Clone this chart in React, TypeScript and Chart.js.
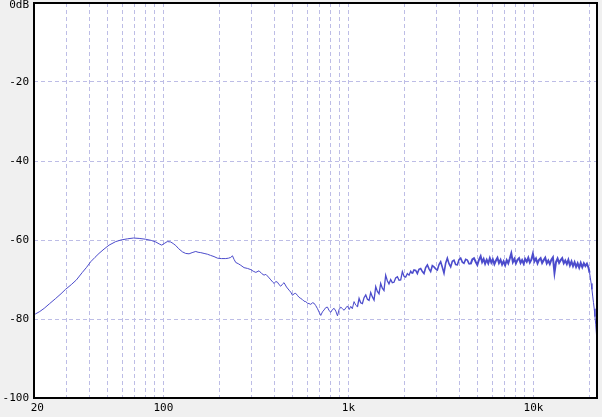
import React, { useEffect, useRef } from 'react';
import { Chart, registerables } from 'chart.js';

Chart.register(...registerables);

// Frequency (Hz) of each measured point
const freqHz = [
  20, 20.4, 21.5, 22.7, 24.3, 26.2, 28.0, 29.6, 31.8, 33.9,
  36.5, 38.5, 40.5, 42.7, 44.9, 47.8, 50.9, 55.3, 59.0, 64.0,
  69.0, 74.0, 80.0, 86.0, 91.0, 95.0, 98.0, 101.0, 105.0, 109.6,
  113.0, 116.7, 121.0, 126.8, 132.0, 137.7, 143.0, 149.7, 154.0, 159.3,
  166.0, 173.1, 180.0, 187.9, 196.1, 206.0, 217.4, 225.0, 231.3, 236.3,
  241.0, 246.3, 254.0, 262.0, 273.0, 285.0, 297.0, 306.0, 316.0, 329.0,
  340.0, 350.0, 358.0, 365.0, 373.0, 381.0, 389.0, 397.0, 405.0, 414.0,
  422.0, 431.0, 440.0, 449.0, 463.0, 478.0, 488.0, 499.0, 509.0, 519.0,
  530.0, 541.0, 553.0, 565.0, 576.0, 588.0, 601.0, 613.0, 626.0, 639.0,
  652.0, 666.0, 681.0, 695.0, 709.0, 724.0, 739.0, 755.0, 771.0, 787.0,
  803.0, 820.0, 837.0, 855.0, 873.0, 891.0, 910.0, 929.0, 948.0, 968.0,
  989.0, 1010, 1030, 1050, 1073, 1096, 1119, 1142, 1165, 1190,
  1215, 1241, 1267, 1293, 1320, 1348, 1376, 1405, 1434, 1464,
  1494, 1525, 1557, 1590, 1623, 1657, 1692, 1727, 1763, 1801,
  1840, 1878, 1917, 1957, 1998, 2040, 2083, 2127, 2171, 2216,
  2262, 2310, 2358, 2407, 2458, 2510, 2562, 2616, 2672, 2727,
  2783, 2841, 2901, 2962, 3025, 3088, 3152, 3218, 3285, 3354,
  3425, 3496, 3570, 3645, 3721, 3799, 3879, 3960, 4043, 4128,
  4213, 4302, 4393, 4485, 4578, 4674, 4771, 4872, 4974, 5078,
  5184, 5280, 5380, 5480, 5590, 5700, 5810, 5920, 6030, 6150,
  6270, 6390, 6510, 6640, 6770, 6900, 7030, 7170, 7310, 7450,
  7590, 7740, 7890, 8040, 8200, 8360, 8520, 8680, 8850, 9020,
  9200, 9380, 9560, 9740, 9930, 10120, 10320, 10520, 10720, 10930,
  11140, 11360, 11580, 11800, 12030, 12260, 12500, 12740, 12990, 13240,
  13500, 13760, 14030, 14300, 14580, 14860, 15150, 15440, 15740, 16050,
  16360, 16680, 17000, 17330, 17670, 18010, 18360, 18720, 19080, 19450,
  19830, 20100, 20300, 20500, 20700, 20900, 21100, 21300, 21500, 21700,
  21900, 22050,
];

// Level (dB) at each frequency above
const levelDb = [
  -79.0, -78.7, -78.1, -77.3, -76.1, -74.8, -73.6, -72.5, -71.3, -70.1,
  -68.2, -66.9, -65.5, -64.4, -63.4, -62.3, -61.3, -60.4, -60.0, -59.7,
  -59.5, -59.6, -59.8, -60.1, -60.5, -61.0, -61.3, -60.9, -60.4, -60.5,
  -60.9, -61.4, -62.2, -63.0, -63.4, -63.5, -63.2, -62.9, -63.1, -63.2,
  -63.4, -63.6, -63.9, -64.2, -64.6, -64.7, -64.7, -64.6, -64.4, -64.0,
  -64.9, -65.7, -66.0, -66.4, -67.0, -67.2, -67.5, -67.9, -68.2, -67.8,
  -68.5, -68.9, -68.7, -69.1, -69.6, -70.1, -70.6, -71.0, -70.5, -70.7,
  -71.3, -71.7, -71.2, -70.8, -71.9, -72.7, -73.2, -74.0, -73.6, -73.5,
  -74.0, -74.5, -74.8, -75.1, -75.5, -75.6, -76.0, -76.1, -76.3, -75.9,
  -76.0, -76.6, -77.4, -78.3, -79.1, -78.2, -77.7, -77.1, -77.0, -77.9,
  -78.3, -77.6, -77.3, -78.0, -79.2, -77.6, -77.0, -77.4, -77.8, -77.2,
  -76.7, -77.6, -76.8, -77.4, -75.6, -76.5, -76.9, -74.8, -75.9, -76.1,
  -74.6, -73.9, -75.0, -75.3, -73.3, -74.4, -75.2, -71.8, -73.0, -73.6,
  -71.0, -72.2, -72.8, -68.9, -70.3, -71.1, -70.0, -70.8, -70.7, -69.6,
  -69.3, -70.2, -70.1, -68.0, -69.2, -69.4, -68.5, -68.9, -67.9, -68.5,
  -67.6, -67.7, -68.5, -67.4, -67.2, -68.0, -68.5, -67.0, -66.3, -67.3,
  -68.0, -66.5, -66.8, -67.3, -67.6, -66.2, -65.5, -66.9, -68.4, -65.9,
  -64.6, -66.0, -66.8, -65.4, -65.1, -66.2, -66.3, -65.0, -64.6, -65.6,
  -65.9, -64.9, -65.1, -66.0, -66.1, -64.9, -64.6, -65.5, -66.3, -65.0,
  -64.1, -65.6, -64.8, -66.0, -65.0, -65.9, -64.6, -65.7, -64.9, -66.1,
  -65.2, -64.5, -65.8, -65.0, -66.2, -65.4, -66.4, -65.1, -65.9, -64.7,
  -63.4, -65.6, -64.8, -65.9, -65.0, -64.6, -65.8, -65.1, -66.0, -64.8,
  -65.5, -64.5, -65.7, -65.0, -63.5, -65.4, -64.7, -65.9, -65.0, -64.6,
  -65.8, -65.1, -64.5, -65.9, -65.2, -66.1, -65.0, -64.4, -68.3, -65.6,
  -64.7, -65.8, -65.1, -64.6, -65.9, -65.2, -66.1, -65.0, -66.4, -65.4,
  -66.6, -65.6, -66.8, -65.9, -67.0, -65.8, -66.9, -65.9, -66.6, -66.0,
  -67.0, -68.3, -69.6, -71.0, -72.5, -74.2, -75.8, -77.4, -79.4, -81.3,
  -83.8, -86.5,
];

// Vertical grid lines (Hz) and the ones that carry a label
const xGridHz = [
  20, 30, 40, 50, 60, 70, 80, 90,
  100, 200, 300, 400, 500, 600, 700, 800, 900,
  1000, 2000, 3000, 4000, 5000, 6000, 7000, 8000, 9000,
  10000, 20000,
];
const xLabelHz = [20, 100, 1000, 10000];
const xLabelText = [' 20', '100', '1k', '10k'];

// Horizontal grid lines (dB) and their labels
const yTickDb = [-100, -80, -60, -40, -20, 0];
const yLabelText = ['-100', '-80', '-60', '-40', '-20', '0dB'];

const X_MIN = 20;
const X_MAX = 22050;
const Y_MIN = -100;
const Y_MAX = 0;

const FONT = { family: "'DejaVu Sans Mono', monospace", size: 11 };
const TOP_FONT = { family: "'DejaVu Sans Mono', monospace", size: 11, lineHeight: 0.45 };
const GRID_COLOR = '#bdbde6';
const LINE_COLOR = '#4c4ccc';

export default function App() {
  const canvasRef = useRef<HTMLCanvasElement | null>(null);

  useEffect(() => {
    document.body.style.margin = '0';
    document.body.style.background = '#f0f0f0';
    const canvas = canvasRef.current;
    if (!canvas) return;

    const points = freqHz.map((f, i) => ({ x: f, y: levelDb[i] }));

    const framePlugin = {
      id: 'frame',
      beforeDraw(chart: any) {
        const { ctx, chartArea: a } = chart;
        ctx.save();
        ctx.fillStyle = '#f0f0f0';
        ctx.fillRect(0, 0, chart.width, chart.height);
        ctx.fillStyle = '#ffffff';
        ctx.fillRect(a.left, a.top, a.right - a.left, a.bottom - a.top);
        ctx.restore();
      },
      afterDraw(chart: any) {
        const { ctx, chartArea: a } = chart;
        ctx.save();
        ctx.strokeStyle = '#000000';
        ctx.lineWidth = 2;
        ctx.strokeRect(a.left, a.top, a.right - a.left, a.bottom - a.top);
        ctx.restore();
      },
    };

    const chart = new Chart(canvas, {
      type: 'line',
      data: {
        datasets: [
          {
            data: points,
            borderColor: LINE_COLOR,
            borderWidth: 1,
            pointRadius: 0,
            tension: 0,
            fill: false,
            segment: {
              borderWidth: (c: any) => {
                const f = c.p0.parsed.x;
                if (f > 4500 && f < 20000) return 2;
                if (f > 2200 && f < 20000) return 1.6;
                if (f > 1100 && f < 20000) return 1.3;
                return 1;
              },
            },
          },
        ],
      },
      options: {
        animation: false,
        responsive: false,
        devicePixelRatio: 1,
        layout: { padding: { top: 3, right: 5, left: 0, bottom: 0 } },
        plugins: {
          legend: { display: false },
          tooltip: { enabled: false },
        },
        scales: {
          x: {
            type: 'logarithmic',
            position: 'bottom',
            min: X_MIN,
            max: X_MAX,
            afterBuildTicks: (s: any) => {
              s.ticks = xGridHz.map((v) => ({ value: v }));
            },
            afterFit: (s: any) => {
              s.height = 19;
              s.paddingLeft = 0;
              s.paddingRight = 0;
            },
            ticks: {
              autoSkip: false,
              maxRotation: 0,
              minRotation: 0,
              padding: 4,
              color: '#000000',
              font: FONT,
              callback: (v: any) => {
                const i = xLabelHz.indexOf(Number(v));
                return i >= 0 ? xLabelText[i] : '';
              },
            },
            grid: { color: GRID_COLOR, lineWidth: 1, drawTicks: false },
            border: { display: false, dash: [4, 3] },
          },
          y: {
            type: 'linear',
            position: 'left',
            min: Y_MIN,
            max: Y_MAX,
            afterBuildTicks: (s: any) => {
              s.ticks = yTickDb.map((v) => ({ value: v }));
            },
            afterFit: (s: any) => {
              s.width = 34;
              s.paddingTop = 0;
              s.paddingBottom = 0;
            },
            ticks: {
              autoSkip: false,
              padding: 5,
              color: '#000000',
              font: (c: any) => (c.tick && c.tick.value === Y_MAX ? TOP_FONT : FONT),
              callback: (v: any) => {
                const i = yTickDb.indexOf(Number(v));
                if (i < 0) return '';
                return Number(v) === Y_MAX ? ['', yLabelText[i]] : yLabelText[i];
              },
            },
            grid: { color: GRID_COLOR, lineWidth: 1, drawTicks: false },
            border: { display: false, dash: [4, 3] },
          },
        },
      },
      plugins: [framePlugin],
    } as any);

    return () => {
      chart.destroy();
    };
  }, []);

  return (
    <div style={{ width: 602, height: 417, background: '#f0f0f0' }}>
      <canvas ref={canvasRef} width={602} height={417} style={{ display: 'block' }} />
    </div>
  );
}
